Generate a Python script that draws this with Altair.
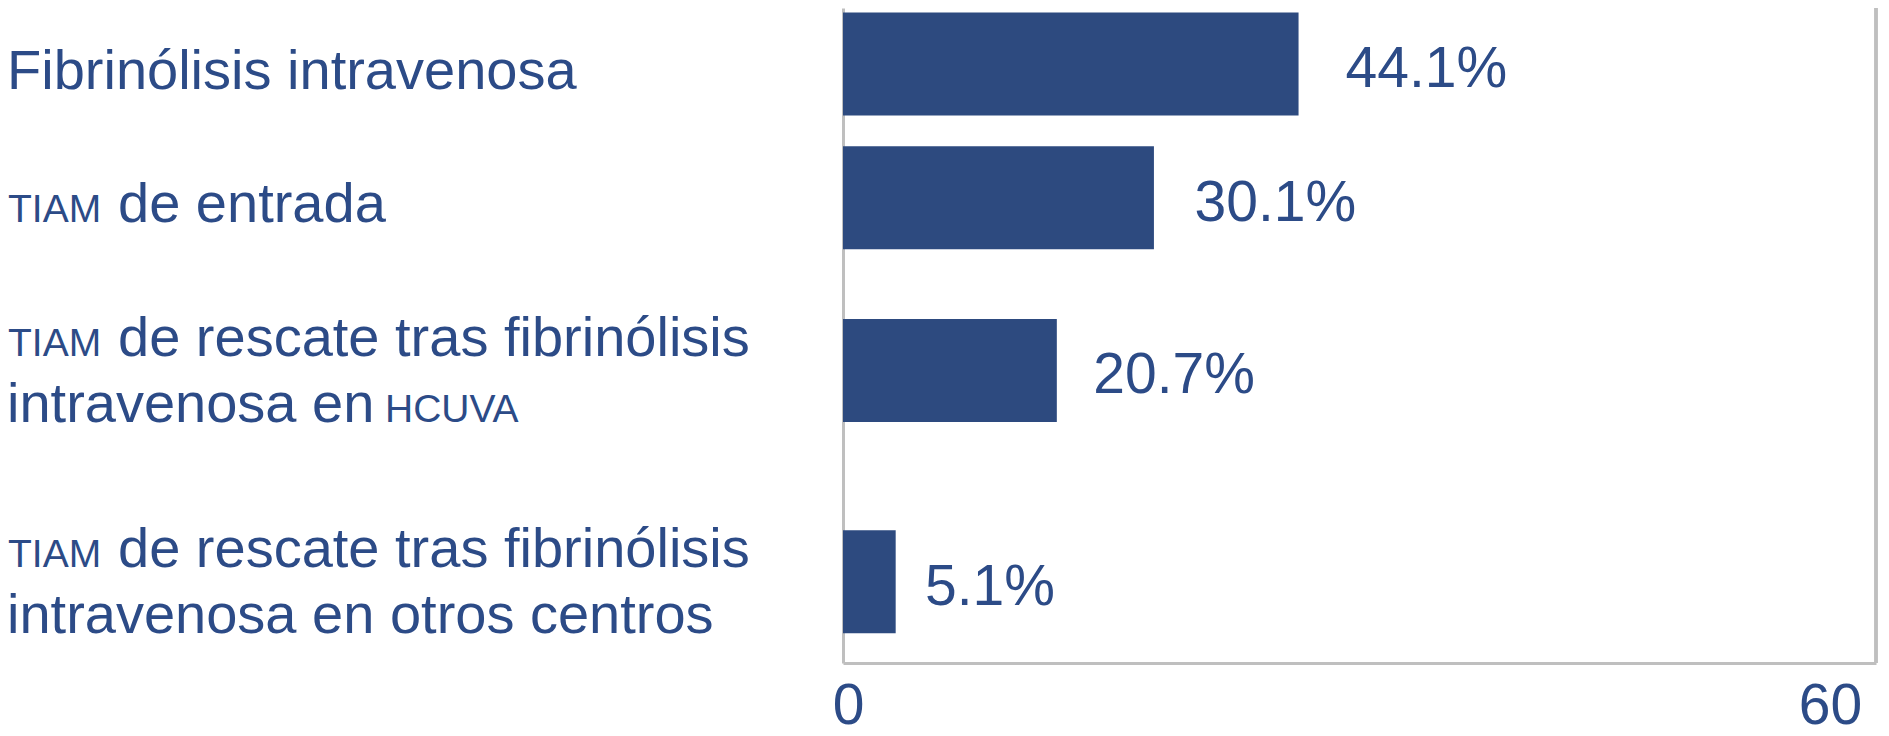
import altair as alt
import pandas as pd

# ---------------- data ----------------
categories = [
    "Fibrinólisis intravenosa",
    "TIAM de entrada",
    "TIAM de rescate tras fibrinólisis intravenosa en HCUVA",
    "TIAM de rescate tras fibrinólisis intravenosa en otros centros",
]
values = [44.1, 30.1, 20.7, 5.1]
value_text = ["44.1%", "30.1%", "20.7%", "5.1%"]

# label lines per category: (small-caps prefix, main text, small-caps suffix)
label_lines = [
    [("", "Fibrinólisis intravenosa", "")],
    [("TIAM", "de entrada", "")],
    [("TIAM", "de rescate tras fibrinólisis", ""), ("", "intravenosa en", "HCUVA")],
    [("TIAM", "de rescate tras fibrinólisis", ""), ("", "intravenosa en otros centros", "")],
]

tick_values = [0, 100]
tick_labels = ["0", "60"]

# ---------------- style ----------------
BAR = "#2D4A7F"
TEXT = "#2C4B87"
FRAME = "#BFBFBF"
FONT = "Liberation Sans"
BIG = 56
SMALL = 39

# row layout derived from the number of label lines (in "line" units)
GAP = 0.73
UNIT_PX = 78.6
LINE_PX = 67.0
centers = []
pos = 0.0
for lines in label_lines:
    n = len(lines)
    centers.append(pos + n / 2)
    pos += n + GAP

bars_df = pd.DataFrame({
    "category": categories,
    "value": values,
    "text": value_text,
    "slot": centers,
})

rows = []
for cat, c, lines in zip(categories, centers, label_lines):
    n = len(lines)
    base = 25 if n == 1 else 19
    for i, (pre, main, suf) in enumerate(lines):
        ly = c + ((i - (n - 1) / 2) * LINE_PX + base) / UNIT_PX
        rows.append({"category": cat, "prefix": pre, "main": main, "suffix": suf, "ly": ly})
lines_df = pd.DataFrame(rows)

xscale = alt.Scale(domain=[0, 100], nice=False, zero=True)
yscale = alt.Scale(domain=[-0.158, 8.176], reverse=True, nice=False, zero=False)

label_expr = " : ".join(
    f"datum.value == {v} ? '{t}'" for v, t in zip(tick_values, tick_labels)
) + " : ''"

bars = alt.Chart(bars_df).mark_bar(orient="horizontal", size=103, color=BAR).encode(
    x=alt.X(
        "value:Q",
        scale=xscale,
        title=None,
        axis=alt.Axis(
            values=tick_values,
            labelExpr=label_expr,
            labelPadding=60,
            labelBaseline="alphabetic",
            labelFlush=False,
            labelAlign="center",
            labelOffset={"condition": {"test": "datum.value == 100", "value": -46}, "value": 5},
        ),
    ),
    y=alt.Y("slot:Q", scale=yscale, title=None),
)

right_rule = alt.Chart(bars_df).mark_rule(color=FRAME, strokeWidth=3).encode(
    x=alt.datum(100)
)

# value labels sit a little further out for longer bars
value_labels = alt.Chart(bars_df).transform_calculate(
    lx="datum.value * 1.044"
).mark_text(
    align="left", baseline="alphabetic", dx=27, dy=23,
    font=FONT, fontSize=57, color=TEXT,
).encode(
    x=alt.X("lx:Q", scale=xscale, title=None),
    y=alt.Y("slot:Q", scale=yscale, title=None),
    text="text:N",
)

def text_layer(df, field, xpos, size):
    return alt.Chart(df).mark_text(
        align="left", baseline="alphabetic", font=FONT, fontSize=size, color=TEXT,
    ).encode(
        x=alt.value(xpos),
        y=alt.Y("ly:Q", scale=yscale, title=None),
        text=f"{field}:N",
    )

plain_df = lines_df[lines_df["prefix"] == ""]
pref_df = lines_df[lines_df["prefix"] != ""]
suf_df = lines_df[lines_df["suffix"] != ""]

main_plain = text_layer(plain_df, "main", -836, BIG)
main_pref = text_layer(pref_df, "main", -725, BIG)
prefix_txt = text_layer(pref_df, "prefix", -835, SMALL)
suffix_txt = text_layer(suf_df, "suffix", -458, SMALL)

chart = alt.layer(
    right_rule, bars, value_labels, main_plain, main_pref, prefix_txt, suffix_txt
).properties(
    width=1033,
    height=655,
    padding={"left": 835, "top": 0, "right": 5, "bottom": 72},
    autosize=alt.AutoSizeParams(type="none"),
    background="white",
).configure_view(
    stroke=None
).configure_axis(
    grid=False,
    ticks=False,
    tickSize=0,
    domainColor=FRAME,
    domainWidth=3,
    labelFont=FONT,
    labelFontSize=57,
    labelColor=TEXT,
).configure_axisY(
    labels=False,
)

chart.save("out.html", embed_options={"renderer": "svg", "actions": False})
